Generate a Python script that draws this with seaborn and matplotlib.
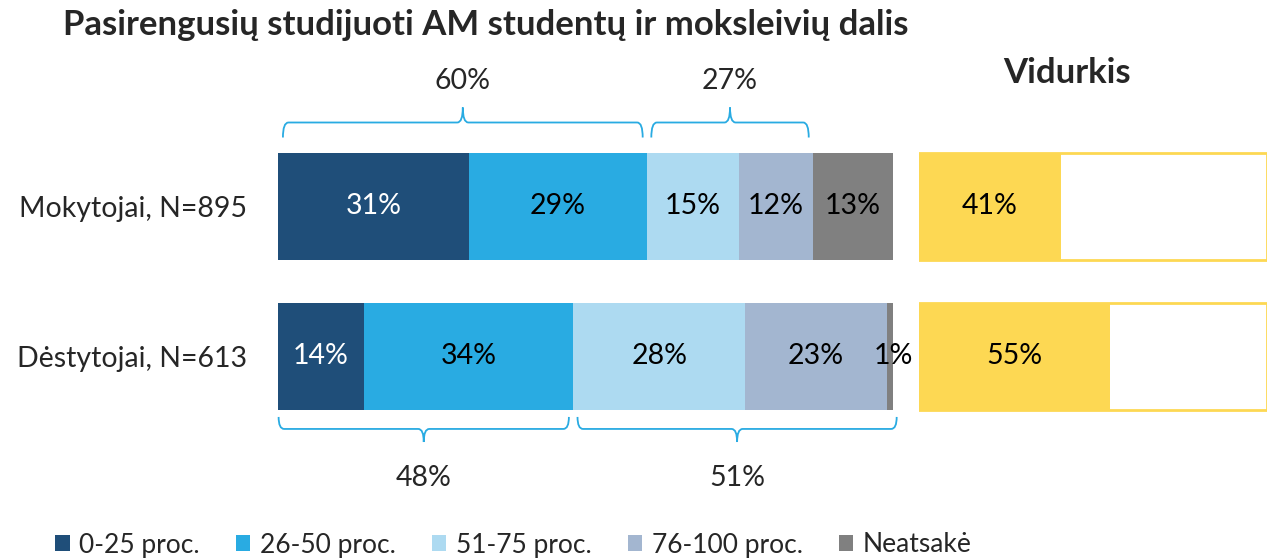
import numpy as np
import pandas as pd
import matplotlib
matplotlib.use("Agg")
import matplotlib.pyplot as plt
from matplotlib.path import Path
from matplotlib.patches import PathPatch, Patch
import seaborn as sns

# ---------------- data ----------------
groups = ["Mokytojai, N=895", "Dėstytojai, N=613"]
categories = ["0-25 proc.", "26-50 proc.", "51-75 proc.", "76-100 proc.", "Neatsakė"]
mokytojai = [31, 29, 15, 12, 13]
destytojai = [14, 34, 28, 23, 1]
averages = [41, 55]
title = "Pasirengusių studijuoti AM studentų ir moksleivių dalis"
avg_title = "Vidurkis"
# brace groupings: (row, first segment, last segment)
brace_groups = [(0, 0, 1), (0, 2, 3), (1, 0, 1), (1, 2, 4)]

colors = ["#1F4E79", "#29ABE2", "#ADDAF1", "#A3B6D0", "#808080"]
yellow = "#FDD853"
brace_color = "#29ABE2"

sns.set_theme(style="white")
plt.rcParams["font.family"] = ["Lato", "DejaVu Sans"]

W, H = 1276, 558
fig = plt.figure(figsize=(W / 100, H / 100), dpi=100)

def ax_rect(x0, x1, ytop, ybot):
    return [x0 / W, 1 - ybot / H, (x1 - x0) / W, (ybot - ytop) / H]

ax = fig.add_axes(ax_rect(278, 893, 56.5, 506.5))
ax2 = fig.add_axes(ax_rect(918.5, 1266.5, 56.5, 506.5))

vals = np.array([mokytojai, destytojai])
cum = np.cumsum(vals, axis=1)
bar_h = 107 / 150
FS = 20.5

# stacked bars via cumulative overlap (largest first)
for j in range(len(categories) - 1, -1, -1):
    df = pd.DataFrame({"group": groups, "v": cum[:, j]})
    sns.barplot(data=df, y="group", x="v", orient="h", color=colors[j],
                width=bar_h, saturation=1, ax=ax, edgecolor="none", linewidth=0)

ax.set_xlim(0, 100)
ax.set_ylim(2, -1)
ax.set_yticks([0, 1])
ax.set_yticklabels(groups, fontsize=FS)
ax.tick_params(axis="y", length=0, pad=22)
ax.set_xticks([])
ax.set_xlabel("")
ax.set_ylabel("")
for s in ax.spines.values():
    s.set_visible(False)

# segment labels
for i in range(2):
    starts = cum[i] - vals[i]
    for j in range(len(categories)):
        v = vals[i, j]
        xc = starts[j] + v / 2
        if v < 3:
            xc = starts[j] + v / 2 + 0.6
        col = "white" if j == 0 else "black"
        ax.text(xc, i, f"{v}%", ha="center", va="center", fontsize=FS, color=col)

# braces
def brace(ax, x0, x1, yt, yh, yp, rx=0.9):
    xc = (x0 + x1) / 2
    verts = [(x0, yt), (x0, yh), (x0 + rx, yh),
             (xc - rx, yh), (xc, yh), (xc, yp),
             (xc, yh), (xc + rx, yh),
             (x1 - rx, yh), (x1, yh), (x1, yt)]
    codes = [Path.MOVETO, Path.CURVE3, Path.CURVE3,
             Path.LINETO, Path.CURVE3, Path.CURVE3,
             Path.CURVE3, Path.CURVE3,
             Path.LINETO, Path.CURVE3, Path.CURVE3]
    p = PathPatch(Path(verts, codes), fill=False, edgecolor=brace_color,
                  lw=1.3, clip_on=False)
    ax.add_patch(p)

for row, a, b in brace_groups:
    starts = cum[row] - vals[row]
    x0 = starts[a] + (0.8 if row == 0 else 0.1) if a == 0 else starts[a] + 0.7
    x1 = cum[row][b] - 0.7
    if b == len(categories) - 1:
        x1 = cum[row][b] + 0.6
    total = int(vals[row][a:b + 1].sum())
    if b == len(categories) - 1:
        total = int(vals[row][a:b].sum())
    if row == 0:
        brace(ax, x0, x1, -0.46, -0.56, -0.66)
        ax.text((x0 + x1) / 2, -0.837, f"{total}%", ha="center", va="center", fontsize=FS)
    else:
        brace(ax, x0, x1, 1.403, 1.483, 1.57)
        ax.text((x0 + x1) / 2, 1.81, f"{total}%", ha="center", va="center", fontsize=FS)

# average panel
df_full = pd.DataFrame({"group": groups, "v": [100, 100]})
sns.barplot(data=df_full, y="group", x="v", orient="h", color="white",
            width=bar_h, saturation=1, ax=ax2, edgecolor=yellow, linewidth=2)
df_avg = pd.DataFrame({"group": groups, "v": averages})
sns.barplot(data=df_avg, y="group", x="v", orient="h", color=yellow,
            width=bar_h, saturation=1, ax=ax2, edgecolor="none", linewidth=0)
ax2.set_xlim(0, 100)
ax2.set_ylim(2, -1)
ax2.set_xticks([])
ax2.set_yticks([])
ax2.set_xlabel("")
ax2.set_ylabel("")
for s in ax2.spines.values():
    s.set_visible(False)
for i, v in enumerate(averages):
    ax2.text(v / 2, i, f"{v}%", ha="center", va="center", fontsize=FS, color="black")

# titles
fig.text(63 / W, 1 - 25 / H, title, fontsize=25, fontweight="bold", ha="left", va="center")
fig.text(1067 / W, 1 - 73 / H, avg_title, fontsize=25, fontweight="bold", ha="center", va="center")

# legend
handles = [Patch(facecolor=c, edgecolor="none") for c in colors]
fig.legend(handles, categories, loc="center left", bbox_to_anchor=(55 / W, 1 - 545 / H),
           ncol=5, frameon=False, fontsize=19, handlelength=0.55, handleheight=0.55,
           handletextpad=0.35, columnspacing=1.38, borderaxespad=0, borderpad=0)

fig.savefig("out.png", dpi=100)
